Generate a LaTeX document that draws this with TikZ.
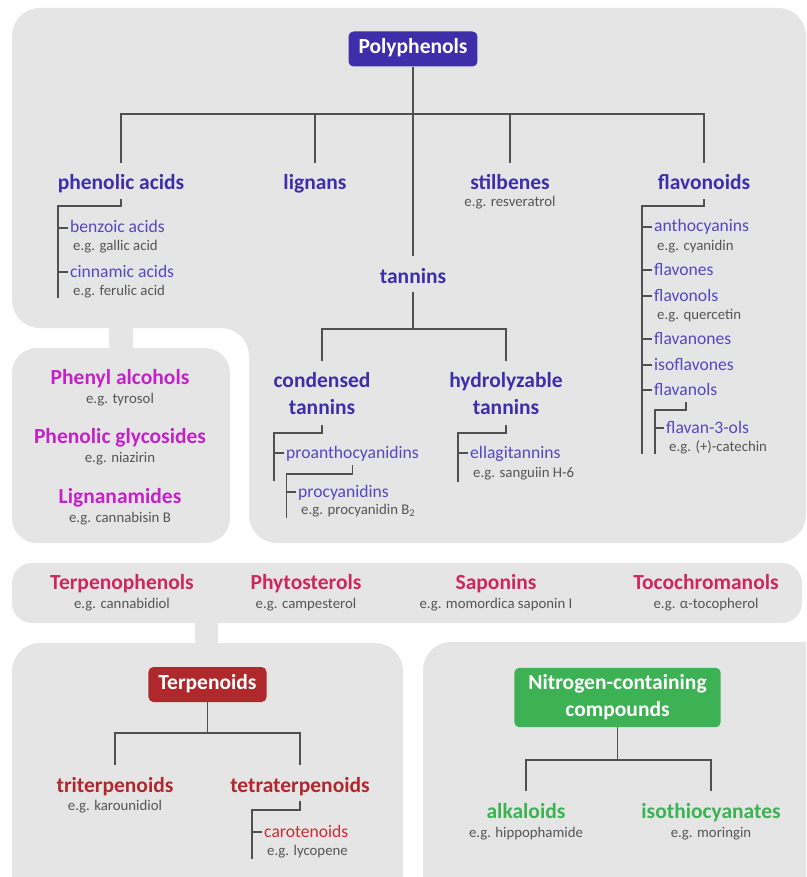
\documentclass[tikz,border=0pt]{standalone}
\usepackage{fontspec}
\setmainfont{Carlito}
\definecolor{panelgray}{RGB}{229,229,229}
\definecolor{linegray}{RGB}{80,80,80}
\definecolor{exgray}{RGB}{85,85,85}
\definecolor{polyblue}{RGB}{63,45,170}
\definecolor{subblue}{RGB}{85,70,195}
\definecolor{mag}{RGB}{196,33,200}
\definecolor{crim}{RGB}{208,38,94}
\definecolor{terpred}{RGB}{175,40,44}
\definecolor{terpsub}{RGB}{200,45,50}
\definecolor{ngreen}{RGB}{60,178,84}
\tikzset{
    link/.style={draw=linegray, line width=1.8pt},
    catfont/.style={font=\fontsize{21.5}{27}\selectfont\bfseries},
    headbox/.style={catfont, text=white, fill=#1, rounded corners=5pt, inner xsep=10pt, inner ysep=7.5pt, text height=15pt, text depth=5pt},
    cat/.style={catfont, text=#1, inner sep=0pt, text height=27pt, text depth=9pt, anchor=base},
    cat/.default=polyblue,
    cattwo/.style={catfont, text=polyblue, inner sep=0pt, align=center, anchor=north},
    sub/.style={font=\fontsize{17.6}{21}\selectfont, text=#1, inner xsep=2pt, inner ysep=0pt, text height=10pt, text depth=0pt, anchor=base west},
    sub/.default=subblue,
    ex/.style={font=\fontsize{14.8}{18}\selectfont, text=exgray, inner sep=0pt, anchor=base west},
    exmid/.style={ex, anchor=base}
}
\begin{document}
\begin{tikzpicture}[x=1pt,y=-1pt]
        \useasboundingbox (0,0) rectangle (806,877);
        \clip (0,0) rectangle (806,877);
        \fill[panelgray, rounded corners=28pt] (12,328) -- (12,8) -- (806,8) -- (806,543) -- (249,543) -- (249,328) -- cycle;
        \fill[panelgray] (109,320) rectangle (133,352);
        \fill[panelgray, rounded corners=25pt] (12,348) rectangle (230,543);
        \fill[panelgray, rounded corners=20pt] (12,563) rectangle (802,623);
        \fill[panelgray] (195,615) rectangle (218,650);
        \fill[panelgray, rounded corners=28pt] (12,643) rectangle (403,910);
        \fill[panelgray, rounded corners=28pt] (423,642) rectangle (830,910);

        \node[headbox=polyblue] (poly) at (413,49) {Polyphenols};
        \coordinate (bus) at (413,114);
        \node[cat] (phen) at (121,190) {phenolic acids};
        \node[cat] (lign) at (315,190) {lignans};
        \node[cat] (stil) at (510,190) {stilbenes};
        \node[exmid] (stilex) at (510,207) {e.g. resveratrol};
        \node[cat] (flav) at (704,190) {flavonoids};
        \node[cat] (tann) at (413,283) {tannins};
        \draw[link] (poly) -- (tann);
        \foreach \n in {phen,lign,stil,flav}
            \draw[link] (bus) -| (\n);

        \node[sub] (benz) at (68,233) {benzoic acids};
        \node[ex] (gallex) at (73,251) {e.g. gallic acid};
        \node[sub] (cinn) at (68,277) {cinnamic acids};
        \node[ex] (ferex) at (73,295) {e.g. ferulic acid};
        \draw[link] (phen.south) -- ++(0,7) -| ++(-63,92);

        \node[sub] (anth) at (652,232) {anthocyanins};
        \node[ex] (cyanex) at (657,250) {e.g. cyanidin};
        \node[sub] (flvo) at (652,275) {flavones};
        \node[sub] (flvn) at (652,301) {flavonols};
        \node[ex] (querex) at (657,319) {e.g. quercetin};
        \node[sub] (flva) at (652,344) {flavanones};
        \node[sub] (isof) at (652,370) {isoflavones};
        \node[sub] (flvl) at (652,395) {flavanols};
        \node[sub] (fl3o) at (664,433) {flavan-3-ols};
        \node[ex] (catex) at (669,451) {e.g. (+)-catechin};
        \draw[link] (flav.south) -- ++(0,7) -| ++(-62,248);
        \draw[link] ([yshift=-7pt]flvl.south) -- ++(0,8) -| ++(-31,44);

        \coordinate (tbus) at (413,329);
        \node[cattwo] (cond) at (322,372) {condensed\\tannins};
        \node[cattwo] (hydr) at (506,372) {hydrolyzable\\tannins};
        \draw[link] (tann) -- (tbus);
        \foreach \n in {cond,hydr}
            \draw[link] (tbus) -| ([yshift=11pt]\n.north);
        \node[sub] (proa) at (284,458) {proanthocyanidins};
        \node[sub] (proc) at (296,497) {procyanidins};
        \node[ex] (procex) at (301,514) {e.g. procyanidin B\textsubscript{2}};
        \node[sub] (ella) at (468,458) {ellagitannins};
        \node[ex] (sangex) at (473,477) {e.g. sanguiin H-6};
        \draw[link] ([yshift=-10pt]cond.south) -- ++(0,8) -| ++(-48,48);
        \draw[link] ([yshift=-10pt]hydr.south) -- ++(0,8) -| ++(-48,49);
        \draw[link] ([yshift=-7pt]proa.south) -- ++(0,9) -| ++(-66,44);

        \foreach \y/\t/\e [count=\i] in {384/Phenyl alcohols/tyrosol, 443/Phenolic glycosides/niazirin, 503/Lignanamides/cannabisin B} {
            \node[cat=mag] (grp\i) at (120,\y) {\t};
            \node[exmid] (grpex\i) at (120,\y+19) {e.g. \e};
        }
        \foreach \x/\t/\e [count=\i] in {122/Terpenophenols/cannabidiol, 306/Phytosterols/campesterol, 496/Saponins/momordica saponin I, 706/Tocochromanols/α-tocopherol} {
            \node[cat=crim] (band\i) at (\x,589) {\t};
            \node[exmid] (bandex\i) at (\x,608) {e.g. \e};
        }

        \node[headbox=terpred] (terp) at (207.5,684.5) {Terpenoids};
        \coordinate (terpbus) at (207.5,733);
        \node[cat=terpred] (trit) at (115,792) {triterpenoids};
        \node[exmid] (tritex) at (115,810) {e.g. karounidiol};
        \node[cat=terpred] (tetr) at (300,792) {tetraterpenoids};
        \node[sub=terpsub] (caro) at (262,837) {carotenoids};
        \node[ex] (lycex) at (267,855) {e.g. lycopene};
        \draw[link] (terp) -- (terpbus);
        \foreach \n in {trit,tetr}
            \draw[link] (terpbus) -| (\n);
        \draw[link] (tetr.south) -- ++(0,9) -| ++(-48,49);

        \node[catfont, text=white, fill=ngreen, rounded corners=5pt, align=center, inner xsep=14pt, inner ysep=7pt] (nitr) at (617.5,697.5) {Nitrogen-containing\\compounds};
        \coordinate (nbus) at (617.5,760);
        \node[cat=ngreen] (alka) at (526,818) {alkaloids};
        \node[exmid] (alkaex) at (526,837) {e.g. hippophamide};
        \node[cat=ngreen] (isot) at (711,818) {isothiocyanates};
        \node[exmid] (isotex) at (711,837) {e.g. moringin};
        \draw[link] (nitr) -- (nbus);
        \foreach \n in {alka,isot}
            \draw[link] (nbus) -| (\n);

        \foreach \n in {benz,cinn,anth,flvo,flvn,flva,isof,flvl,fl3o,proa,proc,ella,caro}
            \draw[link] (\n.west) -- ++(-10,0);
    \end{tikzpicture}
\end{document}
